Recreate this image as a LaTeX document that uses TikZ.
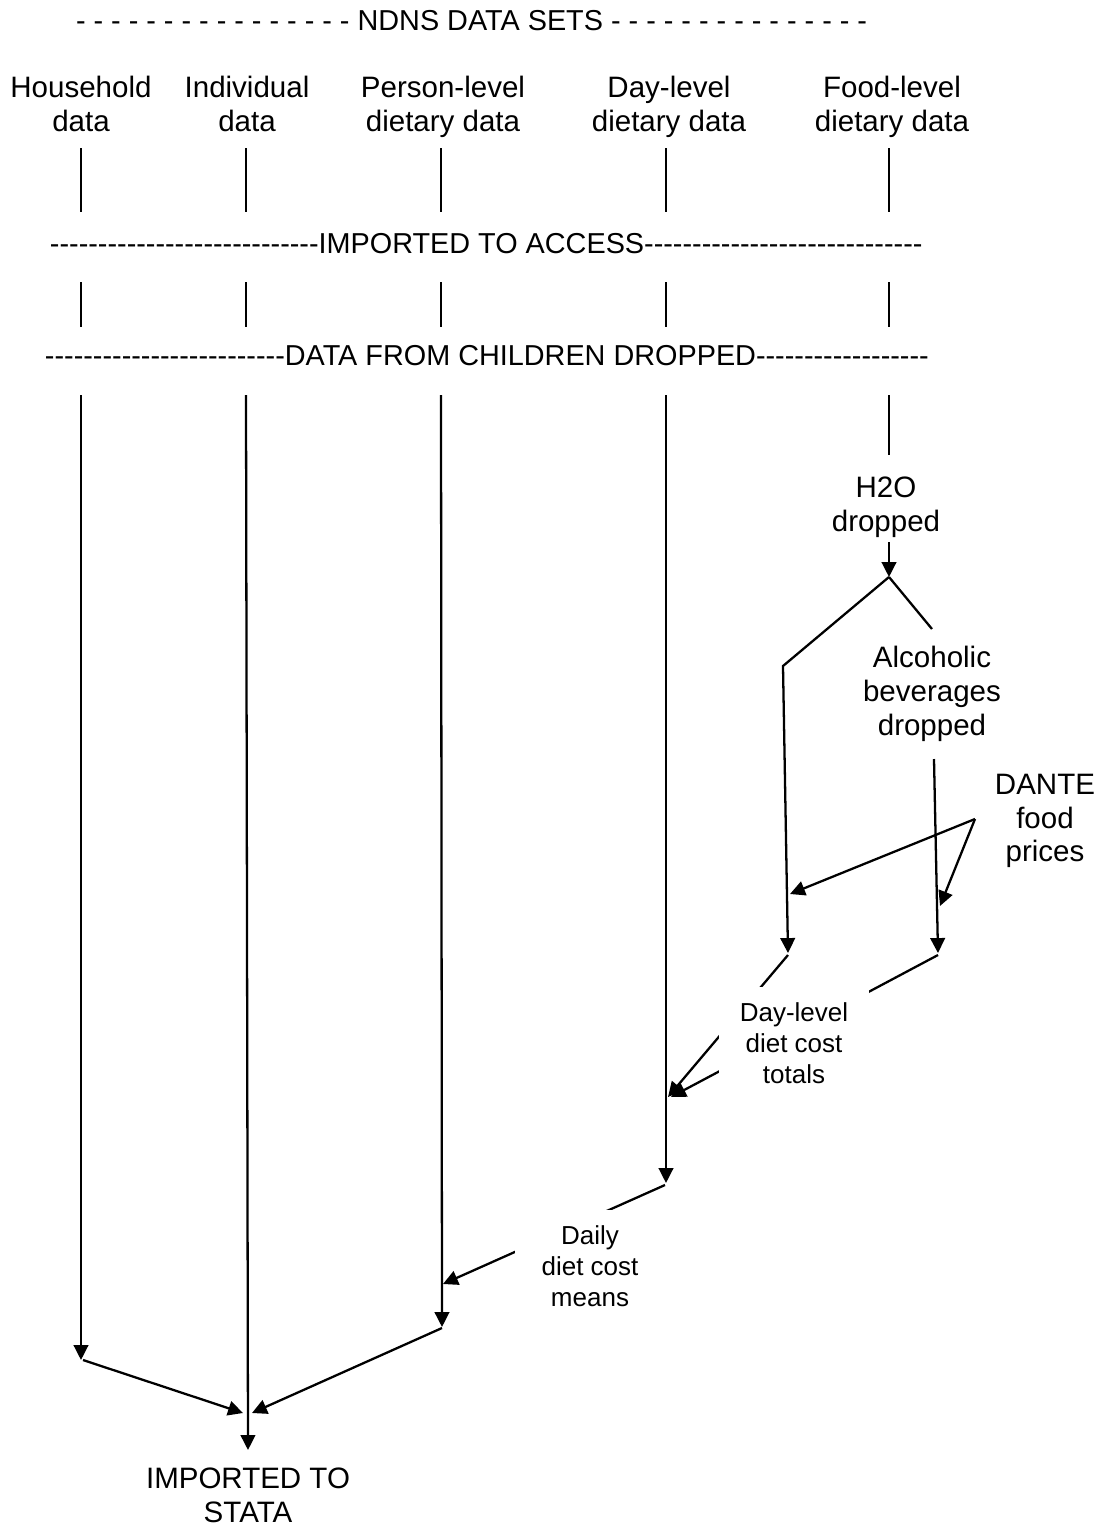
\documentclass[tikz,border=0pt]{standalone}
\usepackage{fontspec}
\setmainfont{Liberation Sans}[Ligatures=TeXOff]
\usetikzlibrary{arrows.meta,backgrounds}

\begin{document}
\begin{tikzpicture}[x=0.02cm,y=-0.02cm,
  every node/.style={inner sep=0pt, outer sep=0pt},
  big/.style={font=\fontsize{16.8}{19.2}\selectfont, align=center},
  small/.style={font=\fontsize{14.8}{17.6}\selectfont, align=center},
  banner/.style={font=\fontsize{16.4}{19}\selectfont, anchor=base west},
  cutbox/.style={small, fill=white, minimum width=3.02cm, inner ysep=9pt},
  link/.style={line width=1.3pt},
  flow/.style={link, -{Triangle[length=8.5pt,width=8.3pt]}},
]
\useasboundingbox (0,0) rectangle (1109,1526);

% stage banners
\node[banner] (sets) at (76,30) {- - - - - - - - - - - - - - - - NDNS DATA SETS - - - - - - - - - - - - - - -};
\node[banner] (access) at (50,253) {----------------------------IMPORTED TO ACCESS-----------------------------};
\node[banner] (children) at (45,365) {-------------------------DATA FROM CHILDREN DROPPED------------------};

% data sets
\node[big] (hh)   at (81,104)  {Household\\data};
\node[big] (ind)  at (247,104) {Individual\\data};
\node[big] (per)  at (443,107) {Person-level\\dietary data};
\node[big] (dayl) at (669,107) {Day-level\\dietary data};
\node[big] (food) at (892,107) {Food-level\\dietary data};

% processing steps
\node[big] (h2o)   at (886,507)  {H2O\\dropped};
\node[big] (alc)   at (932,694)  {Alcoholic\\beverages\\dropped};
\node[big] (dante) at (1045,821) {DANTE\\food\\prices};
\node[cutbox] (tot)  at (794,1043) {Day-level\\diet cost\\totals};
\node[cutbox] (mean) at (590,1266) {Daily\\diet cost\\means};
\node[big] (stata) at (248,1495) {IMPORTED TO\\STATA};

% column stubs and long runs
\foreach \c/\x in {hh/81,ind/246,per/441,day/666,food/889} {
  \coordinate (\c-a) at (\x,148);
  \coordinate (\c-b) at (\x,212);
  \coordinate (\c-c) at (\x,282);
  \coordinate (\c-d) at (\x,327);
  \coordinate (\c-e) at (\x,395);
}
\coordinate (hh-end)   at (81,1360);
\coordinate (ind-end)  at (248,1450);
\coordinate (per-end)  at (442,1327);
\coordinate (day-end)  at (666,1183);
\coordinate (food-end) at (889,455);

% water / alcohol branch
\coordinate (h2o-out)  at (889,542);
\coordinate (split)    at (889,577);
\coordinate (keep-top) at (783,666);
\coordinate (keep-end) at (788,953);
\coordinate (alc-in)   at (932,629);
\coordinate (alc-out)  at (934,759);
\coordinate (alc-end)  at (938,953);

% prices
\coordinate (price)    at (975,819);
\coordinate (price-l)  at (790,894);
\coordinate (price-r)  at (940,906);

% totals and means
\coordinate (keep-off) at (788,955);
\coordinate (alc-off)  at (938,955);
\coordinate (tot-in1)  at (668,1097);
\coordinate (tot-in2)  at (671,1097);
\coordinate (day-off)  at (665,1185);
\coordinate (mean-in)  at (443,1284);
\coordinate (hh-off)   at (83,1360);
\coordinate (per-off)  at (442,1328);
\coordinate (join-l)   at (243,1413);
\coordinate (join-r)   at (252,1413);

\begin{pgfonlayer}{background}
  \foreach \c in {hh,ind,per,day,food} {
    \draw[link] (\c-a) -- (\c-b);
    \draw[link] (\c-c) -- (\c-d);
  }
  \draw[flow] (hh-e)  -- (hh-end);
  \draw[flow] (ind-e) -- (ind-end);
  \draw[flow] (per-e) -- (per-end);
  \draw[flow] (day-e) -- (day-end);
  \draw[link] (food-e) -- (food-end);

  \draw[flow] (h2o-out) -- (split);
  \draw[flow] (split) -- (keep-top) -- (keep-end);
  \draw[link] (split) -- (alc-in);
  \draw[flow] (alc-out) -- (alc-end);

  \draw[flow] (price) -- (price-l);
  \draw[flow] (price) -- (price-r);

  \draw[flow] (keep-off) -- (tot-in1);
  \draw[flow] (alc-off)  -- (tot-in2);
  \draw[flow] (day-off)  -- (mean-in);
  \draw[flow] (hh-off)   -- (join-l);
  \draw[flow] (per-off)  -- (join-r);
\end{pgfonlayer}
\end{tikzpicture}
\end{document}
